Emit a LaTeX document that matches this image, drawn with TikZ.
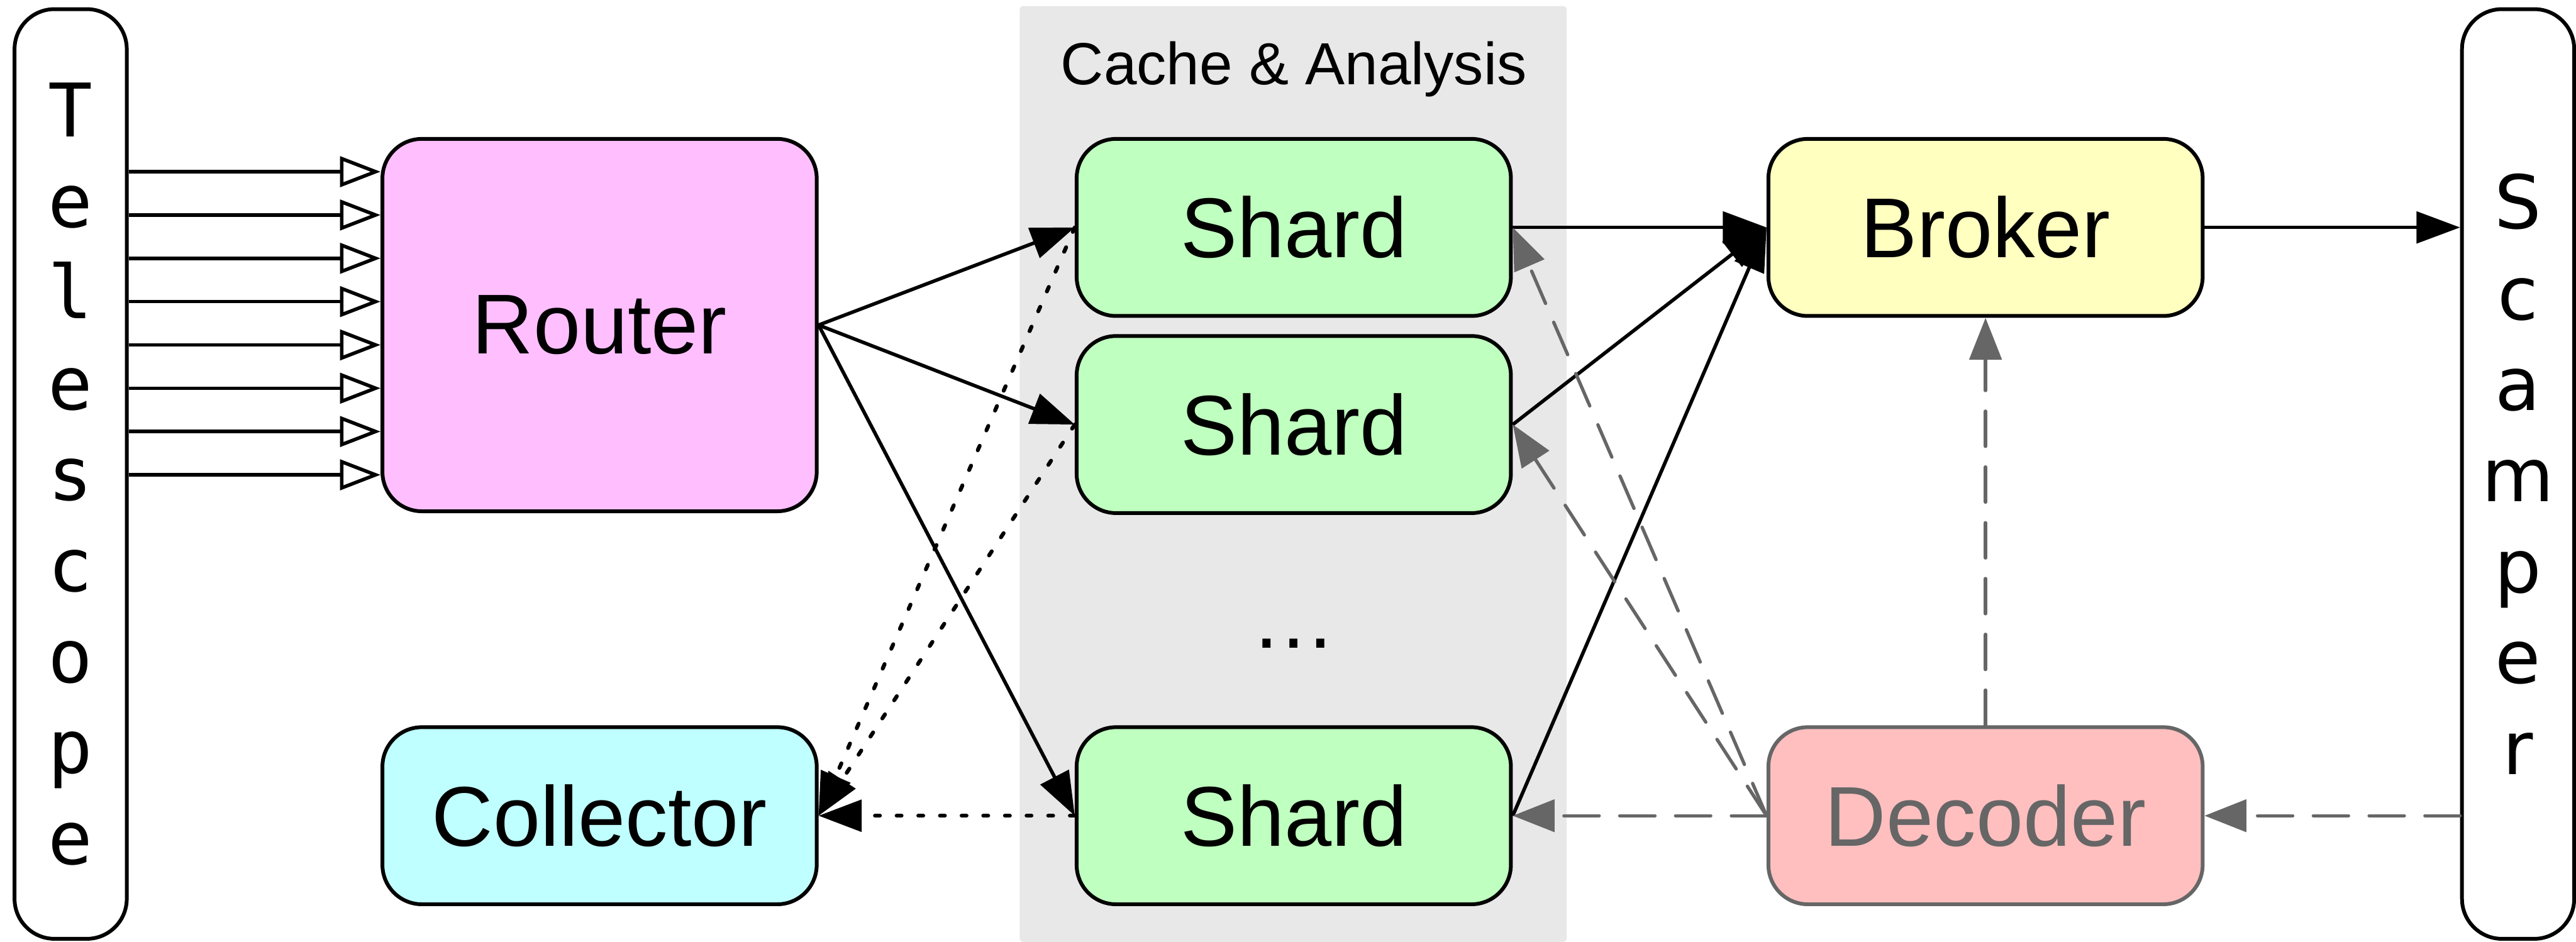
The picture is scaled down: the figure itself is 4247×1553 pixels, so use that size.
\documentclass[tikz,border=0pt]{standalone}
\usepackage{fontspec}
\setmainfont{Liberation Sans}
\newfontfamily\telefont{DejaVu Sans Mono}
\newfontfamily\scamfont{DejaVu Sans}
\usetikzlibrary{arrows.meta,calc}
\definecolor{routerfill}{HTML}{FFBFFF}
\definecolor{collfill}{HTML}{BFFFFF}
\definecolor{shardfill}{HTML}{BFFFBF}
\definecolor{brokerfill}{HTML}{FFFFBF}
\definecolor{decfill}{HTML}{FFBFBF}
\definecolor{decgray}{HTML}{666666}
\definecolor{panelgray}{HTML}{E8E8E8}
\begin{document}
\begin{tikzpicture}[x=0.1pt,y=-0.1pt,
  box/.style={draw=black,line width=0.62pt,rounded corners=6.5pt,
    minimum width=71.6pt,minimum height=29.2pt,inner sep=0pt,
    font=\fontsize{14pt}{16pt}\selectfont},
  bar/.style={draw=black,line width=0.62pt,rounded corners=6.6pt,
    minimum width=18.5pt,minimum height=153.3pt,inner sep=0pt,align=center},
  solidarr/.style={line width=0.58pt,-{Triangle[length=7.2pt,width=5.2pt]}},
  openarr/.style={line width=0.58pt,-{Triangle[open,length=6.7pt,width=5pt,fill=white]}},
  dotarr/.style={line width=0.65pt,dash pattern=on 0.8pt off 2.77pt,line cap=round,
    -{Triangle[length=7.1pt,width=5.2pt]}},
  grayarr/.style={draw=decgray,line width=0.55pt,dash pattern=on 5.8pt off 3.4pt,line cap=round,
    -{Triangle[length=6.9pt,width=5.3pt,fill=decgray]}}]
\useasboundingbox (0,0) rectangle (4247,1553);
% panel
\fill[panelgray,rounded corners=0.6pt] (1681,10) rectangle (2583,1553);
\node[font=\fontsize{9.8pt}{12pt}\selectfont,anchor=base,inner sep=0pt] (title) at (2133,139) {Cache \& Analysis};
% side bars
\node[bar,font=\telefont\fontsize{12.2pt}{15pt}\selectfont] (tel) at (116.5,781.5) {T\\e\\l\\e\\s\\c\\o\\p\\e};
\node[bar,font=\scamfont\fontsize{12.2pt}{15pt}\selectfont] (scam) at (4151.5,781.5) {S\\c\\a\\m\\p\\e\\r};
% boxes
\node[box,fill=routerfill,minimum height=61.4pt] (router) at (988.5,536) {Router};
\node[box,fill=collfill] (coll) at (988.5,1345) {Collector};
\node[box,fill=shardfill] (s1) at (2133,375) {Shard};
\node[box,fill=shardfill] (s2) at (2133,700) {Shard};
\node[box,fill=shardfill] (s3) at (2133,1345) {Shard};
\node[font=\fontsize{14pt}{16pt}\selectfont,anchor=base,inner sep=0pt] (dots) at (2133,1068) {…};
\node[box,fill=brokerfill] (broker) at (3273.5,375) {Broker};
\node[box,fill=decfill,draw=decgray,text=decgray] (dec) at (3273.5,1345) {Decoder};
% telescope -> router
\foreach \i in {0,...,7}{
  \path ($(router.west)+(0,{(\i-3.5)*71.4-3})$) coordinate (rin\i);
  \draw[openarr] (tel.east |- rin\i) -- (rin\i);
}
% router -> shards
\draw[solidarr] (router.east) -- (s1.west);
\draw[solidarr] (router.east) -- (s2.west);
\draw[solidarr] (router.east) -- (s3.west);
% shards -> collector
\draw[dotarr] (s1.west) -- (coll.east);
\draw[dotarr] (s2.west) -- (coll.east);
\draw[dotarr] (s3.west) -- (coll.east);
% shards -> broker
\draw[solidarr] (s1.east) -- (broker.west);
\draw[solidarr] (s2.east) -- (broker.west);
\draw[solidarr] (s3.east) -- (broker.west);
% broker -> scamper
\draw[solidarr] (broker.east) -- (scam.west |- broker.east);
% decoder
\draw[grayarr] (dec.north) -- (broker.south);
\draw[grayarr] (dec.west) -- (s1.east);
\draw[grayarr] (dec.west) -- (s2.east);
\draw[grayarr] (dec.west) -- (s3.east);
\draw[grayarr] (scam.west |- dec.east) -- (dec.east);
\end{tikzpicture}
\end{document}
